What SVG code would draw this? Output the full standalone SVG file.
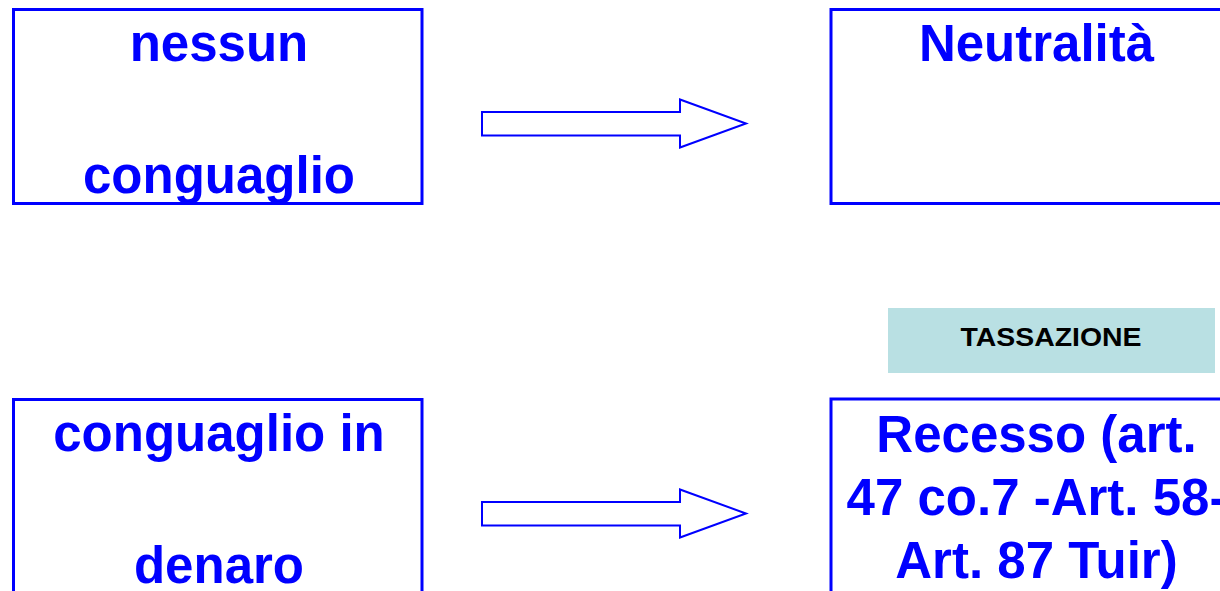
<svg xmlns="http://www.w3.org/2000/svg" width="1220" height="591" viewBox="0 0 1220 591">
  <style>
    .box { fill: #ffffff; stroke: #0000ff; stroke-width: 3; }
    .big { font-family: "Liberation Sans", Arial, sans-serif; font-weight: bold; font-size: 51px; fill: #0000ff; text-anchor: middle; }
    .arrow { fill: #ffffff; stroke: #0000ff; stroke-width: 2; stroke-linejoin: miter; }
    .tag { fill: #b9e0e3; }
    .tagtext { font-family: "Liberation Sans", Arial, sans-serif; font-weight: bold; font-size: 25px; fill: #000000; text-anchor: middle; }
  </style>
  <rect width="1220" height="591" fill="#ffffff"/>

  <g id="nessun-conguaglio">
    <rect class="box" x="13.5" y="9.5" width="408.5" height="194"/>
    <text class="big" x="219" y="61">nessun</text>
    <text class="big" x="219" y="193">conguaglio</text>
  </g>

  <g id="neutralita">
    <rect class="box" x="831" y="9.5" width="410" height="194"/>
    <text class="big" x="1036.5" y="61">Neutralità</text>
  </g>

  <g id="tassazione">
    <rect class="tag" x="888" y="308" width="327" height="65"/>
    <text class="tagtext" x="1051" y="346" textLength="181" lengthAdjust="spacingAndGlyphs">TASSAZIONE</text>
  </g>

  <g id="conguaglio-denaro">
    <rect class="box" x="13.5" y="399.5" width="408.5" height="220"/>
    <text class="big" x="219" y="451">conguaglio in</text>
    <text class="big" x="219" y="583">denaro</text>
  </g>

  <g id="recesso">
    <rect class="box" x="831" y="399" width="410" height="220"/>
    <text class="big" x="1036.5" y="452">Recesso (art.</text>
    <text class="big" x="1036.5" y="515">47 co.7 -Art. 58-</text>
    <text class="big" x="1036.5" y="578">Art. 87 Tuir)</text>
  </g>

  <g id="connectors">
    <path class="arrow" d="M482,112 L680,112 L680,99.5 L746,123.5 L680,147.5 L680,135.5 L482,135.5 Z"/>
    <path class="arrow" d="M482,502 L680,502 L680,489.5 L746,513.5 L680,537.5 L680,525.5 L482,525.5 Z"/>
  </g>
</svg>
